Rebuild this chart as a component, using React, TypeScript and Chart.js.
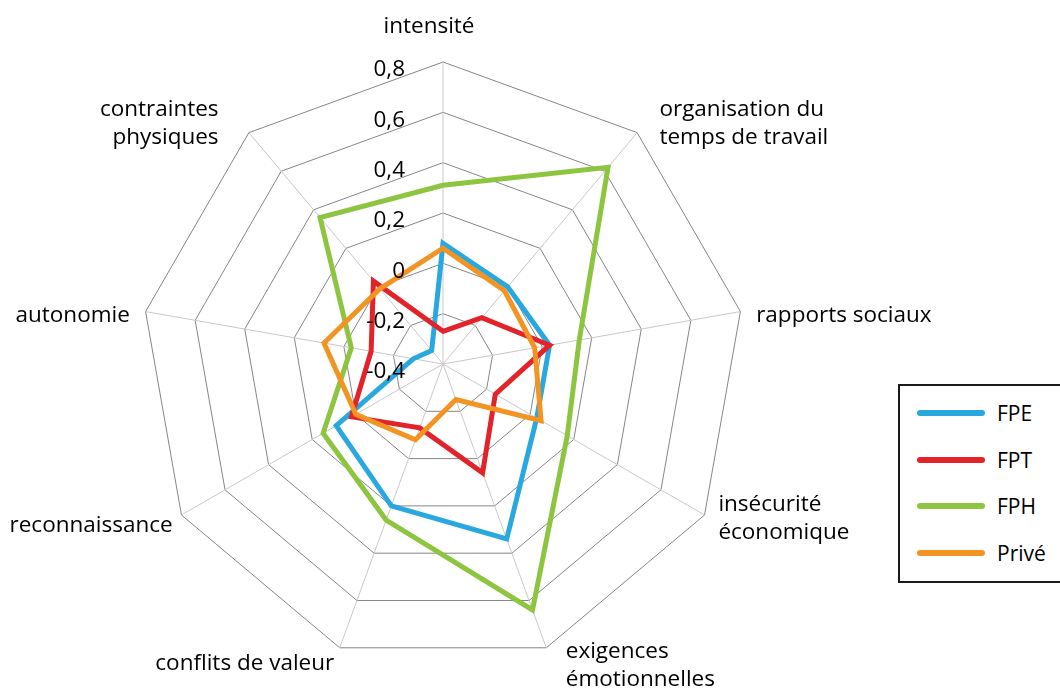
import React, { useEffect, useRef } from 'react';
import { Chart, registerables } from 'chart.js';

Chart.register(...registerables);

// ---- data ----
const categories: (string | string[])[] = [
  'intensité',
  ['organisation du', 'temps de travail'],
  'rapports sociaux',
  ['insécurité', 'économique'],
  ['exigences', 'émotionnelles'],
  'conflits de valeur',
  'reconnaissance',
  'autonomie',
  ['contraintes', 'physiques'],
];

const seriesNames = ['FPE', 'FPT', 'FPH', 'Privé'];

const fpeValues = [0.08, 0.0, 0.03, 0.03, 0.34, 0.2, 0.09, -0.28, -0.33];
const fptValues = [-0.27, -0.16, 0.03, -0.16, 0.06, -0.13, 0.02, -0.11, 0.03];
const fphValues = [0.31, 0.62, 0.15, 0.17, 0.64, 0.26, 0.15, -0.03, 0.36];
const priveValues = [0.06, -0.02, -0.03, 0.05, -0.25, -0.08, 0.0, 0.08, -0.01];

const tickValues = [-0.4, -0.2, 0, 0.2, 0.4, 0.6, 0.8];
const tickLabels = ['-0,4', '-0,2', '0', '0,2', '0,4', '0,6', '0,8'];

// ---- styles / layout ----
const seriesColors = ['#29A8E0', '#E3232A', '#8DC540', '#F39322'];
const FONT = '"Open Sans", "Noto Sans", sans-serif';
// small per-label nudges (px) to mimic the original label placement
const labelNudgeX = [-14, 12, 0, 0, 14, 0, 5, 0, -20];
const labelNudgeY = [0, 0, 4, -7, 0, -2, 0, 4, 0];

const labelPlugin = {
  id: 'excelLabels',
  afterDatasetsDraw(chart: any) {
    const scale = chart.scales.r;
    const ctx = chart.ctx as CanvasRenderingContext2D;
    ctx.save();
    ctx.fillStyle = '#000000';
    ctx.font = `22.5px ${FONT}`;
    // tick labels, placed left of the vertical axis
    ctx.textAlign = 'right';
    ctx.textBaseline = 'middle';
    tickValues.forEach((v, k) => {
      const d = scale.getDistanceFromCenterForValue(v);
      ctx.fillText(tickLabels[k], scale.xCenter - 38, scale.yCenter - d + 8);
    });
    // category labels
    const lh = 28;
    categories.forEach((lab, i) => {
      const lines = Array.isArray(lab) ? lab : [lab];
      const p = scale.getPointPosition(i, scale.drawingArea + 16);
      const a = scale.getIndexAngle(i);
      const s = Math.sin(a);
      const c = Math.cos(a);
      const align: CanvasTextAlign = Math.abs(s) < 0.1 ? 'center' : s > 0 ? 'left' : 'right';
      const h = lines.length * lh;
      const cy = (c > 0.99 ? p.y - h / 2 - 5 : p.y + 3) + labelNudgeY[i];
      const x = p.x + labelNudgeX[i];
      const top = cy - h / 2;
      ctx.textAlign = align;
      lines.forEach((ln, k) => ctx.fillText(ln, x, top + lh * (k + 0.5)));
    });
    ctx.restore();
  },
};

export default function App() {
  const canvasRef = useRef<HTMLCanvasElement | null>(null);

  useEffect(() => {
    if (!canvasRef.current) return;
    const allValues = [fpeValues, fptValues, fphValues, priveValues];
    const chart = new Chart(canvasRef.current, {
      type: 'radar',
      data: {
        labels: categories as any,
        datasets: seriesNames.map((name, i) => ({
          label: name,
          data: allValues[i],
          borderColor: seriesColors[i],
          backgroundColor: seriesColors[i],
          borderWidth: 5,
          pointRadius: 0,
          pointHoverRadius: 0,
          fill: false,
          tension: 0,
          borderJoinStyle: 'miter' as const,
          order: seriesNames.length - i,
        })),
      },
      options: {
        responsive: false,
        animation: false,
        layout: { padding: { left: 141, top: 62, right: 315, bottom: 25 } },
        plugins: { legend: { display: false }, tooltip: { enabled: false } },
        scales: {
          r: {
            min: -0.4,
            max: 0.8,
            ticks: { stepSize: 0.2, display: false },
            grid: { color: '#858585', lineWidth: 1, circular: false },
            angleLines: { color: '#c8c8c8', lineWidth: 1 },
            pointLabels: { display: false },
          },
        },
      },
      plugins: [labelPlugin],
    });
    return () => chart.destroy();
  }, []);

  return (
    <div
      style={{
        position: 'fixed',
        left: 0,
        top: 0,
        width: 1060,
        height: 691,
        overflow: 'hidden',
        background: '#ffffff',
        fontFamily: FONT,
      }}
    >
      <canvas ref={canvasRef} width={1060} height={691} style={{ display: 'block' }} />
      <div
        style={{
          position: 'absolute',
          left: 898,
          top: 384,
          width: 170,
          height: 199,
          border: '2px solid #1a1a1a',
          boxSizing: 'border-box',
          background: '#ffffff',
        }}
      >
        {seriesNames.map((name, i) => (
          <div
            key={name}
            style={{
              position: 'absolute',
              left: 0,
              top: 12 + 46.5 * i,
              height: 30,
              display: 'flex',
              alignItems: 'center',
            }}
          >
            <div
              style={{
                marginLeft: 17,
                width: 68,
                height: 6,
                borderRadius: 3,
                background: seriesColors[i],
              }}
            />
            <span style={{ marginLeft: 12, fontSize: 21, color: '#000', lineHeight: '30px' }}>{name}</span>
          </div>
        ))}
      </div>
    </div>
  );
}
